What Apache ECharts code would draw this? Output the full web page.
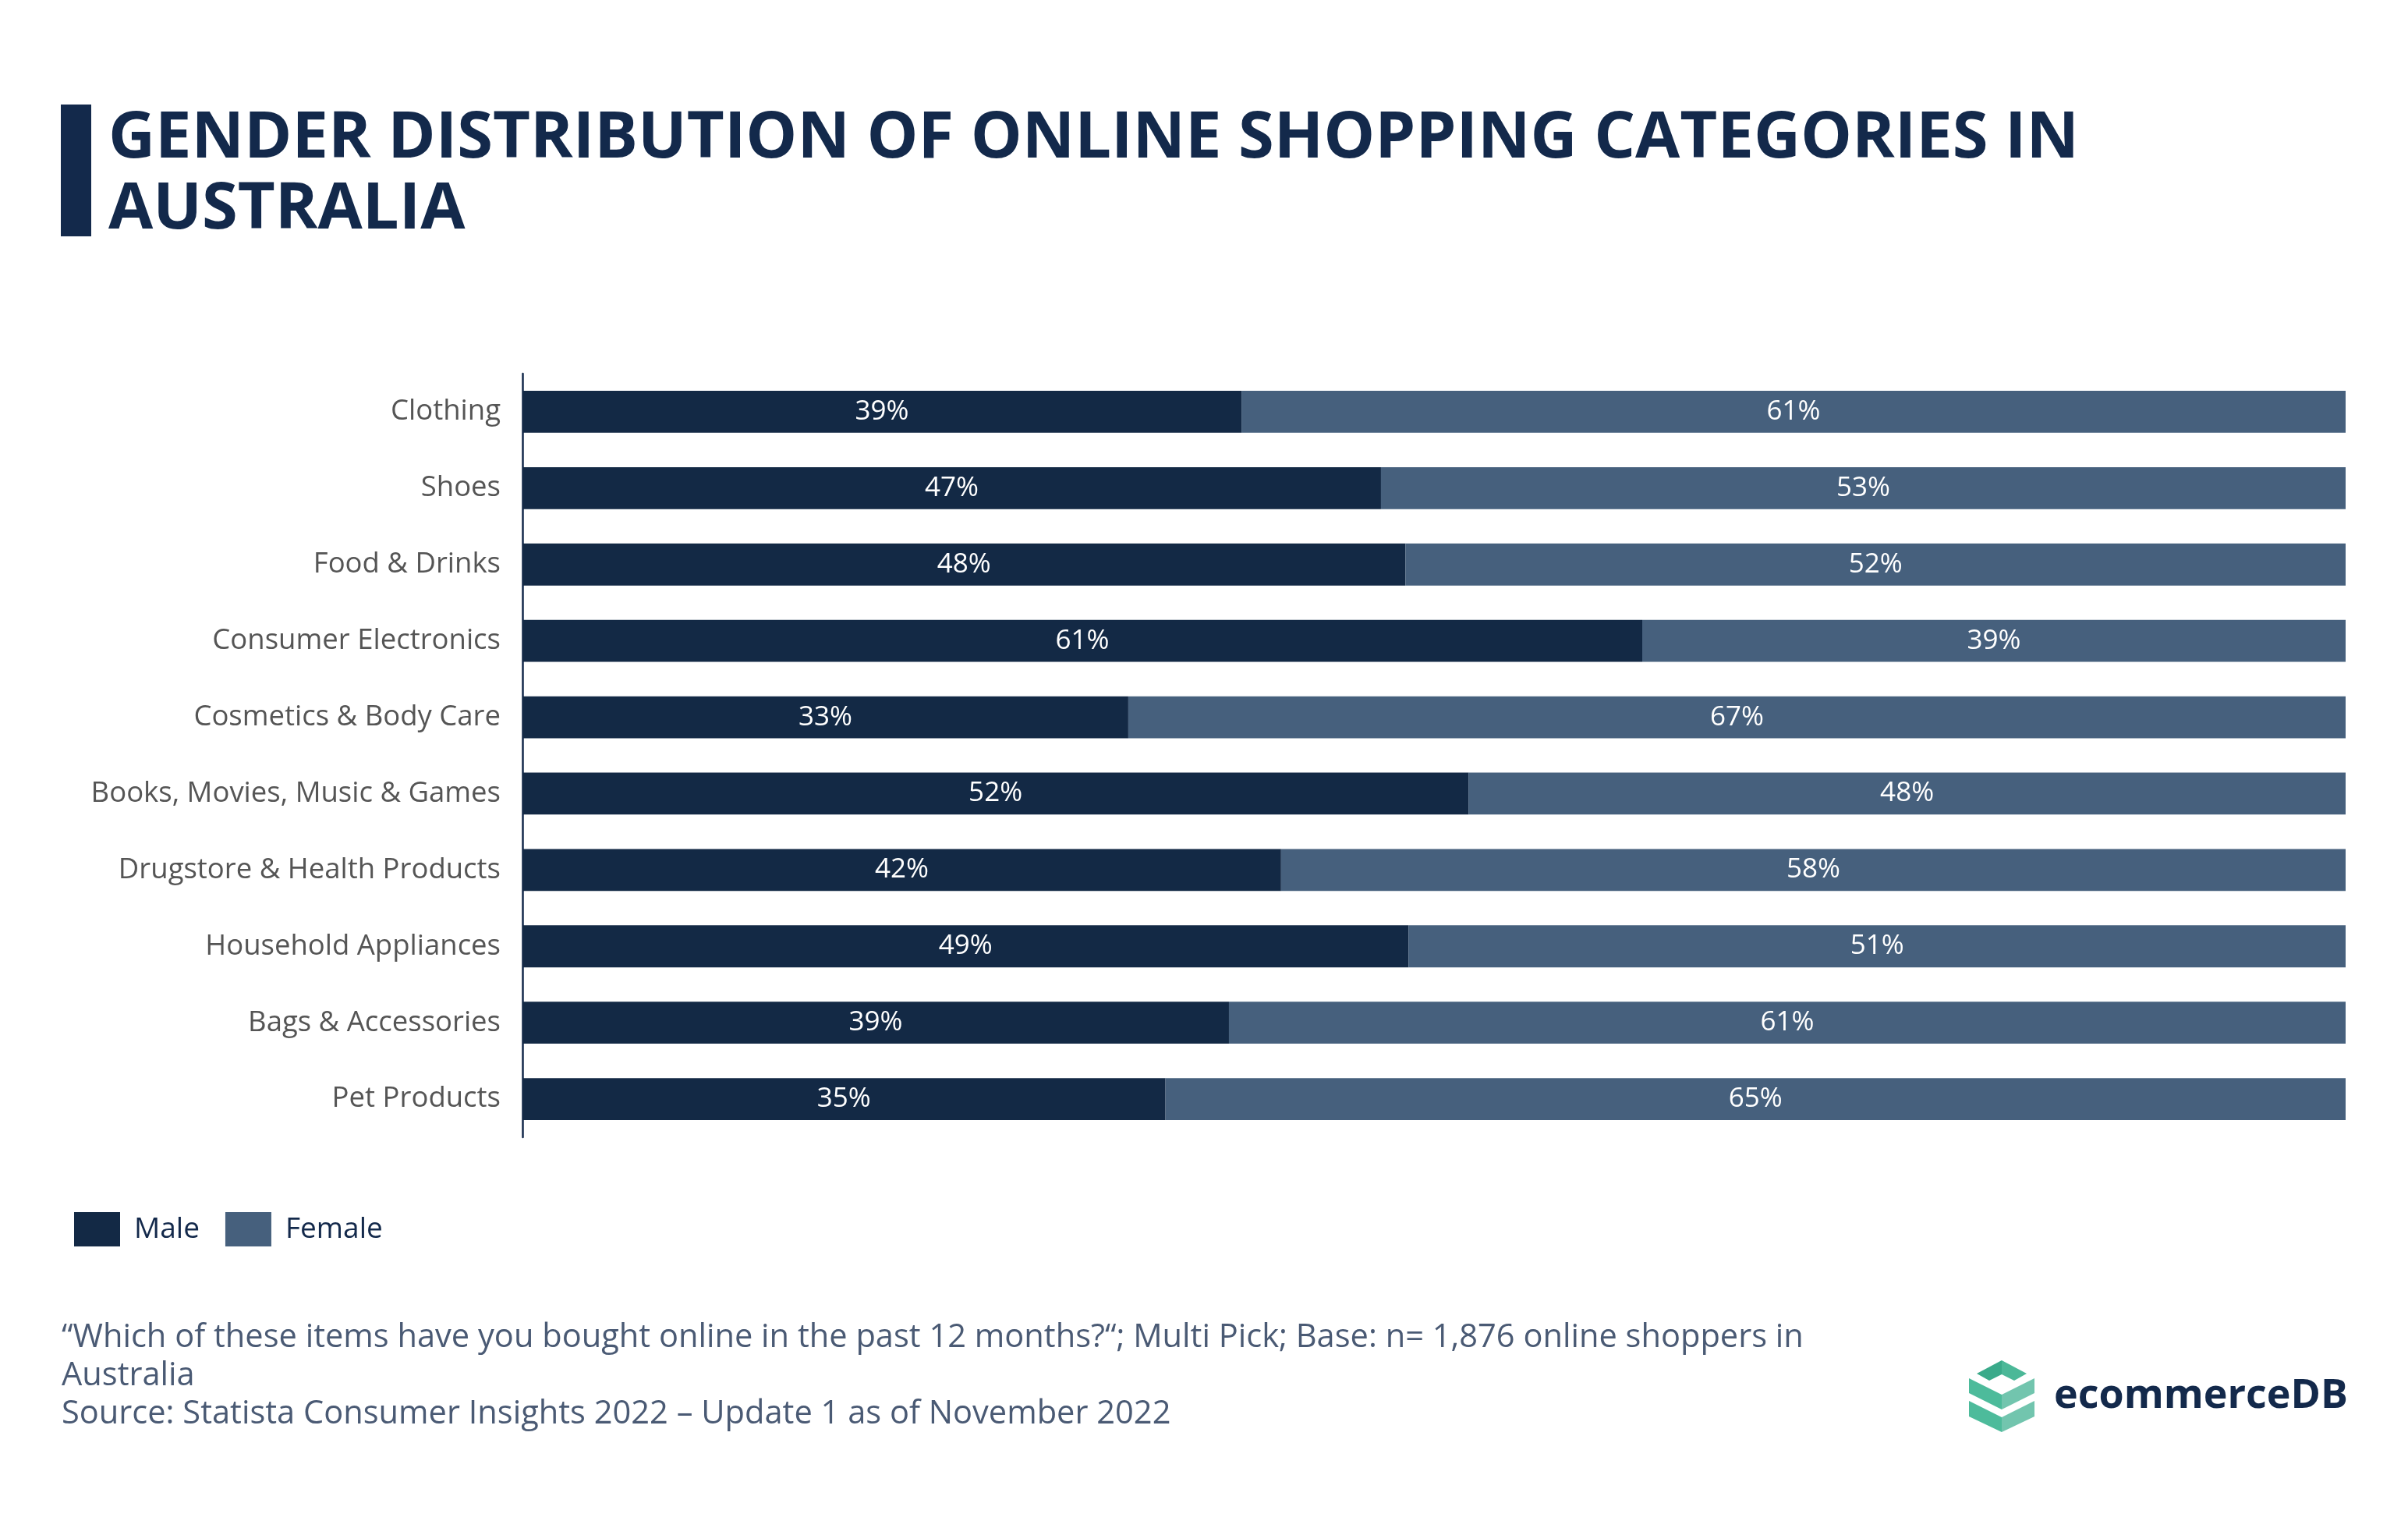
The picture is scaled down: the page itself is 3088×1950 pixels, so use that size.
<!DOCTYPE html>
<html>
<head>
<meta charset="utf-8">
<script src="https://cdn.jsdelivr.net/npm/echarts@6/dist/echarts.min.js"></script>
<style>
html,body{margin:0;padding:0;background:#fff;}
#main{width:3088px;height:1950px;}
</style>
</head>
<body>
<div id="main"></div>
<script>
const categories = ["Clothing","Shoes","Food & Drinks","Consumer Electronics","Cosmetics & Body Care","Books, Movies, Music & Games","Drugstore & Health Products","Household Appliances","Bags & Accessories","Pet Products"];
const maleValues = [39.44,47.09,48.43,61.42,33.23,51.89,41.61,48.60,38.75,35.27];
const femaleValues = [60.56,52.91,51.57,38.58,66.77,48.11,58.39,51.40,61.25,64.73];
const seriesNames = ["Male","Female"];
const titleText = "GENDER DISTRIBUTION OF ONLINE SHOPPING CATEGORIES IN\nAUSTRALIA";
const footerLines = ["\u201CWhich of these items have you bought online in the past 12 months?\u201C; Multi Pick; Base: n= 1,876 online shoppers in","Australia","Source: Statista Consumer Insights 2022 \u2013 Update 1 as of November 2022"];

const MALE = '#132945';
const FEMALE = '#46607d';
const NAVY = '#13294b';
const FONT = '"Open Sans", sans-serif';

const chart = echarts.init(document.getElementById('main'), null, {renderer:'canvas'});

const labelStyle = {
  show: true, position: 'inside', color: '#ffffff', fontSize: 35, fontFamily: FONT,
  padding: [6,0,0,0],
  formatter: p => Math.round(p.value) + '%'
};

const option = {
  backgroundColor: '#ffffff',
  animation: false,
  title: {
    text: titleText, left: 134, top: 128,
    textStyle: {fontFamily: FONT, fontWeight: 'bold', fontSize: 83, lineHeight: 91, color: NAVY}
  },
  legend: {
    left: 90, top: 1549, itemWidth: 59, itemHeight: 44, itemGap: 33,
    icon: 'rect',
    textStyle: {fontFamily: FONT, fontSize: 37, color: NAVY, padding: [0,0,0,13]},
    data: seriesNames
  },
  grid: {left: 670, right: 80, top: 479, bottom: 492, containLabel: false},
  xAxis: {type: 'value', min: 0, max: 100, show: false},
  yAxis: {
    type: 'category', data: categories, inverse: true,
    axisLine: {show: true, lineStyle: {color: NAVY, width: 2.5}},
    axisTick: {show: false},
    axisLabel: {fontFamily: FONT, fontSize: 36.5, color: '#555555', margin: 28, padding: [6,0,0,0]}
  },
  series: [
    {name: seriesNames[0], type: 'bar', stack: 'g', data: maleValues, barWidth: '55%', itemStyle: {color: MALE}, label: labelStyle},
    {name: seriesNames[1], type: 'bar', stack: 'g', data: femaleValues, barWidth: '55%', itemStyle: {color: FEMALE}, label: labelStyle}
  ],
  graphic: [
    {type: 'rect', shape: {x: 78, y: 134, width: 39, height: 169}, style: {fill: NAVY}},
    {type: 'text', left: 79, top: 1691, style: {text: footerLines.join('\n'), font: '41.6px "Open Sans"', fill: '#4a5a74', lineHeight: 49}},
    // logo icon
    {type: 'polygon', shape: {points: [[2535,1761],[2567,1744],[2567,1762],[2551,1770]]}, style: {fill: '#3aaa8a'}},
    {type: 'polygon', shape: {points: [[2567,1744],[2599,1761],[2583,1770],[2567,1762]]}, style: {fill: '#4cb898'}},
    {type: 'polygon', shape: {points: [[2525,1767],[2567,1788],[2567,1807],[2525,1786]]}, style: {fill: '#4dbb9b'}},
    {type: 'polygon', shape: {points: [[2567,1788],[2609,1767],[2609,1786],[2567,1807]]}, style: {fill: '#72c5ae'}},
    {type: 'polygon', shape: {points: [[2525,1796],[2567,1817],[2567,1836],[2525,1816]]}, style: {fill: '#4dbb9b'}},
    {type: 'polygon', shape: {points: [[2567,1817],[2609,1796],[2609,1816],[2567,1836]]}, style: {fill: '#72c5ae'}},
    {type: 'text', left: 2634, top: 1764, style: {text: 'ecommerceDB', font: 'bold 52px "Open Sans"', fill: NAVY}}
  ]
};
chart.setOption(option);
</script>
</body>
</html>
